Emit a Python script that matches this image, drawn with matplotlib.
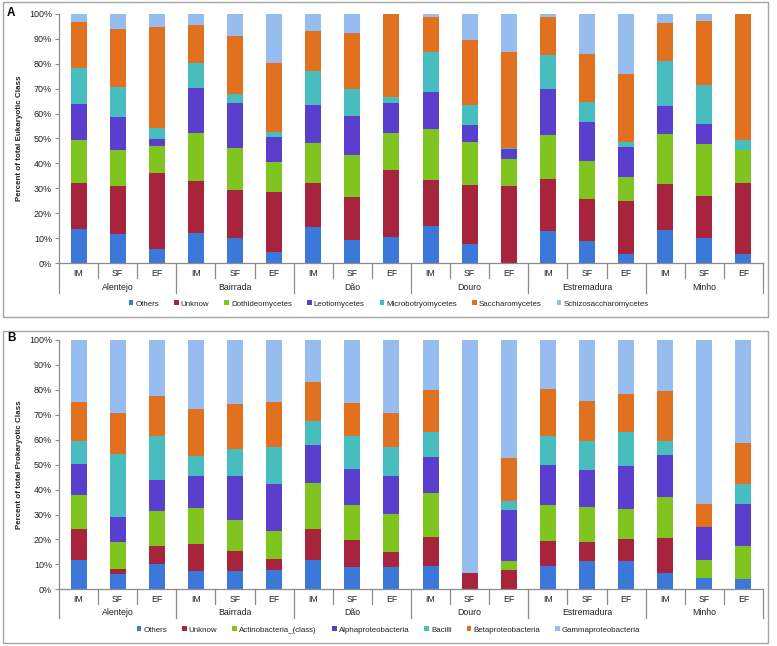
import numpy as np
import matplotlib
matplotlib.use('Agg')
import matplotlib.pyplot as plt
from matplotlib.patches import Rectangle
import matplotlib.transforms as mtransforms

plt.rcParams['font.family'] = ['Liberation Sans', 'DejaVu Sans']

regions = ['Alentejo', 'Bairrada', 'Dão', 'Douro', 'Estremadura', 'Minho']
stages = ['IM', 'SF', 'EF']

# Panel A - eukaryotic classes (% per sample, 18 samples: region x stage)
euk_names = ['Others', 'Unknow', 'Dothideomycetes', 'Leotiomycetes',
             'Microbotryomycetes', 'Saccharomycetes', 'Schizosaccharomycetes']
others_a = [13.9, 11.7, 5.6, 12.0, 10.3, 4.4, 14.6, 9.3, 10.5, 15.0, 7.6, 0, 12.8, 9.1, 3.7, 13.4, 10.0, 3.6]
unknow_a = [18.1, 19.3, 30.4, 21.0, 19.2, 24.2, 17.7, 17.1, 26.9, 18.4, 23.6, 30.8, 20.8, 16.5, 21.4, 18.5, 16.8, 28.7]
dothideo = [17.3, 14.5, 11.1, 19.1, 16.6, 11.9, 16.0, 16.9, 14.9, 20.3, 17.5, 11.0, 17.8, 15.4, 9.6, 19.9, 21.0, 13.2]
leotio = [14.7, 13.2, 2.8, 18.1, 18.1, 10.2, 15.1, 15.7, 12.1, 15.1, 6.8, 4.1, 18.3, 15.7, 12.0, 11.4, 8.0, 0]
microbo = [14.2, 11.8, 4.4, 10.0, 3.8, 1.9, 13.8, 10.8, 2.4, 16.0, 7.9, 0.3, 13.6, 7.8, 1.9, 17.8, 15.5, 3.8]
saccharo = [18.6, 23.2, 40.2, 15.4, 23.1, 27.5, 15.9, 22.5, 33.2, 13.9, 26.2, 38.6, 15.4, 19.3, 27.4, 15.3, 25.9, 50.7]
schizo = [3.2, 6.3, 5.5, 4.4, 8.9, 19.9, 6.9, 7.7, 0, 1.3, 10.4, 15.2, 1.3, 16.2, 24.0, 3.7, 2.8, 0]

# Panel B - prokaryotic classes
pro_names = ['Others', 'Unknow', 'Actinobacteria_(class)', 'Alphaproteobacteria',
             'Bacilli', 'Betaproteobacteria', 'Gammaproteobacteria']
others_b = [11.8, 6.1, 10.0, 7.5, 7.2, 7.8, 11.8, 9.0, 9.1, 9.5, 0, 0, 9.5, 11.2, 11.5, 6.6, 4.4, 4.3]
unknow_b = [12.3, 2.2, 7.2, 10.7, 8.2, 4.4, 12.3, 10.7, 6.0, 11.5, 6.4, 7.9, 9.8, 7.8, 8.7, 14.0, 0, 0]
actino = [13.6, 10.8, 14.1, 14.4, 12.5, 11.2, 18.5, 14.1, 15.1, 17.8, 0, 3.6, 14.4, 13.9, 12.2, 16.6, 7.4, 13.2]
alpha = [12.4, 10.0, 12.6, 12.9, 17.6, 18.7, 15.3, 14.3, 15.3, 14.4, 0, 20.5, 16.2, 15.0, 17.2, 16.5, 13.1, 16.6]
bacilli = [9.3, 25.3, 17.7, 8.0, 10.8, 15.1, 9.6, 13.3, 11.6, 9.9, 0, 3.4, 11.7, 11.6, 13.6, 5.9, 0, 8.0]
beta = [15.7, 16.2, 16.1, 18.7, 17.9, 17.9, 15.7, 13.5, 13.8, 16.7, 0, 17.1, 18.9, 16.0, 15.1, 19.9, 9.3, 16.7]
gamma = [24.9, 29.4, 22.3, 27.8, 25.8, 24.9, 16.8, 25.1, 29.1, 20.2, 93.6, 47.5, 19.5, 24.5, 21.7, 20.5, 65.8, 41.2]

colors = ['#3B78DA', '#A8233C', '#7FC41F', '#5A3FCE', '#47BDBF', '#E2711F', '#96BCF0']
axis_col = '#8C8C8C'
text_col = '#222222'


def draw_panel(ax, series, names, ylabel, letter, ylab_y, letter_y, legend_y):
    x = np.arange(len(series[0]))
    bottom = np.zeros(len(x))
    for vals, name, c in zip(series, names, colors):
        vals = np.array(vals, dtype=float)
        ax.bar(x, vals, width=0.41, bottom=bottom, color=c, label=name, linewidth=0)
        bottom += vals

    ax.set_xlim(-0.5, len(x) - 0.5)
    ax.set_ylim(0, 100)
    ax.set_yticks(np.arange(0, 101, 10))
    ax.set_yticklabels([f'{v}%' for v in range(0, 101, 10)])
    ax.tick_params(axis='y', length=3, width=0.8, color=axis_col, labelsize=6.5,
                   labelcolor=text_col, pad=2)
    ax.set_xticks([])
    for s in ['top', 'right']:
        ax.spines[s].set_visible(False)
    for s in ['left', 'bottom']:
        ax.spines[s].set_color(axis_col)
        ax.spines[s].set_linewidth(0.9)

    # hierarchical x axis: stage labels, region labels, separator lines
    trans = mtransforms.blended_transform_factory(ax.transData, ax.transAxes)
    for i in range(len(x)):
        ax.text(i, -0.04, stages[i % 3], transform=trans, ha='center', va='center',
                fontsize=6.3, color=text_col)
    for g, reg in enumerate(regions):
        ax.text(g * 3 + 1, -0.095, reg, transform=trans, ha='center', va='center',
                fontsize=6.3, color=text_col)
    for k in range(len(x) + 1):
        xe = k - 0.5
        low = -0.117 if k % 3 == 0 else -0.058
        ax.plot([xe, xe], [0, low], transform=trans, color=axis_col, lw=0.9,
                clip_on=False)

    fig.text(20 / 777, ylab_y, ylabel, rotation=90, ha='center', va='center',
             fontsize=5.8, fontweight='bold', color=text_col)
    fig.text(7 / 777, letter_y, letter, ha='left', va='top', fontsize=8.5,
             fontweight='bold', color='black')
    fig.legend(*ax.get_legend_handles_labels(), loc='center',
               bbox_to_anchor=(0.5, legend_y), ncol=7, frameon=False,
               fontsize=5.7, handlelength=0.6, handleheight=0.6,
               handletextpad=0.25, columnspacing=1.9, labelcolor=text_col)


fig = plt.figure(figsize=(7.77, 6.46), dpi=100)

# panel frames
fig.patches.append(Rectangle((2.5 / 777, 1 - 317 / 646), 765 / 777, 315 / 646,
                             transform=fig.transFigure, fill=False,
                             edgecolor='#A5A5A5', linewidth=1.0))
fig.patches.append(Rectangle((2.5 / 777, 1 - 643 / 646), 765 / 777, 312 / 646,
                             transform=fig.transFigure, fill=False,
                             edgecolor='#A5A5A5', linewidth=1.0))

ax_a = fig.add_axes([59 / 777, 1 - 263.3 / 646, 704 / 777, 249.6 / 646])
draw_panel(ax_a, [others_a, unknow_a, dothideo, leotio, microbo, saccharo, schizo],
           euk_names, 'Percent of total Eukaryotic Class', 'A',
           1 - 138.5 / 646, 1 - 6.5 / 646, 1 - 304 / 646)

ax_b = fig.add_axes([59 / 777, 1 - 589.3 / 646, 704 / 777, 249.3 / 646])
draw_panel(ax_b, [others_b, unknow_b, actino, alpha, bacilli, beta, gamma],
           pro_names, 'Percent of total Prokaryotic Class', 'B',
           1 - 464.6 / 646, 1 - 332.5 / 646, 1 - 630 / 646)

fig.savefig('out.png', dpi=100)
